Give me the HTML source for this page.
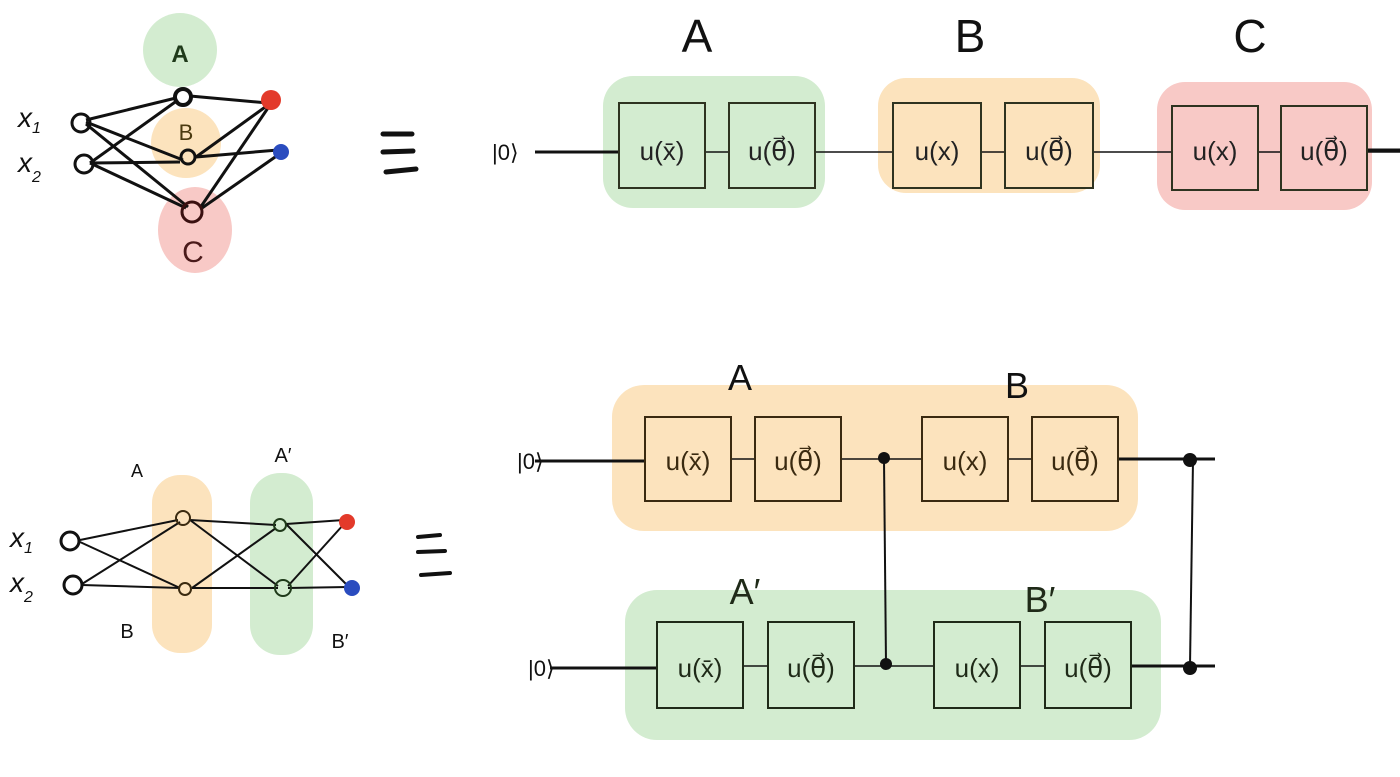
<!DOCTYPE html>
<html><head><meta charset="utf-8"><style>
html,body{margin:0;padding:0;background:#fff;}
svg{display:block;}
text{font-family:"Liberation Sans",sans-serif;}
</style></head><body>
<svg width="1400" height="777" viewBox="0 0 1400 777" xmlns="http://www.w3.org/2000/svg">
<!-- top-left network -->
<circle cx="180" cy="50" r="37" fill="#d3ecd0"/>
<circle cx="186" cy="143" r="35" fill="#fce3bd"/>
<ellipse cx="195" cy="230" rx="37" ry="43" fill="#f8c9c6"/>
<text x="180" y="62" font-size="24" font-weight="bold" fill="#1f3a1a" text-anchor="middle">A</text>
<text x="186" y="140" font-size="22" fill="#4a3a10" text-anchor="middle">B</text>
<text x="193" y="262" font-size="30" fill="#4a1a1a" text-anchor="middle">C</text>
<g stroke="#111" stroke-width="3" fill="none">
<line x1="86" y1="120" x2="176" y2="98"/><line x1="86" y1="122" x2="183" y2="160"/><line x1="86" y1="124" x2="188" y2="207"/>
<line x1="90" y1="163" x2="178" y2="100"/><line x1="90" y1="163" x2="180" y2="162"/><line x1="90" y1="163" x2="186" y2="208"/>
<line x1="190" y1="96" x2="268" y2="103"/><line x1="196" y1="157" x2="268" y2="105"/><line x1="196" y1="157" x2="278" y2="150"/>
<line x1="200" y1="208" x2="270" y2="105"/><line x1="202" y1="208" x2="278" y2="155"/>
<circle cx="81" cy="123" r="9"/><circle cx="84" cy="164" r="9"/>
<circle cx="183" cy="97" r="8" stroke-width="4"/><circle cx="188" cy="157" r="7"/><circle cx="192" cy="212" r="10" stroke="#3a1010"/>
</g>
<circle cx="271" cy="100" r="10" fill="#e33a2a"/><circle cx="281" cy="152" r="8" fill="#2a4cbf"/>
<text x="18" y="127" font-size="28" font-style="italic" fill="#111">x<tspan font-size="16" dy="6">1</tspan></text>
<text x="18" y="172" font-size="28" font-style="italic" fill="#111">x<tspan font-size="16" dy="10">2</tspan></text>
<g stroke="#111" stroke-width="5" stroke-linecap="round"><line x1="383" y1="134" x2="412" y2="134"/><line x1="383" y1="152" x2="413" y2="151"/><line x1="386" y1="172" x2="416" y2="169"/></g>

<!-- top circuit -->
<text x="697" y="52" font-size="46" fill="#111" text-anchor="middle">A</text>
<text x="970" y="52" font-size="46" fill="#111" text-anchor="middle">B</text>
<text x="1250" y="52" font-size="46" fill="#111" text-anchor="middle">C</text>
<rect x="603" y="76" width="222" height="132" rx="30" fill="#d3ecd0"/>
<rect x="878" y="78" width="222" height="115" rx="28" fill="#fce3bd"/>
<rect x="1157" y="82" width="215" height="128" rx="28" fill="#f8c9c6"/>
<text x="492" y="160" font-size="22" fill="#111">|0⟩</text>
<line x1="535" y1="152" x2="619" y2="152" stroke="#111" stroke-width="3"/>
<line x1="705" y1="152" x2="1400" y2="152" stroke="#111" stroke-width="1.5"/>
<line x1="1367" y1="150" x2="1400" y2="150" stroke="#111" stroke-width="3"/>
<g stroke="#2e3320" stroke-width="2">
<rect x="619" y="103" width="86" height="85" fill="#d3ecd0"/><rect x="729" y="103" width="86" height="85" fill="#d3ecd0"/>
<rect x="893" y="103" width="88" height="85" fill="#fce3bd"/><rect x="1005" y="103" width="88" height="85" fill="#fce3bd"/>
<rect x="1172" y="106" width="86" height="84" fill="#f8c9c6"/><rect x="1281" y="106" width="86" height="84" fill="#f8c9c6"/>
</g>
<g font-size="26" fill="#222" text-anchor="middle">
<text x="662" y="160">u(x̄)</text><text x="772" y="160">u(θ⃗)</text>
<text x="937" y="160">u(x)</text><text x="1049" y="160">u(θ⃗)</text>
<text x="1215" y="160">u(x)</text><text x="1324" y="160">u(θ⃗)</text>
</g>

<!-- bottom-left network -->
<rect x="152" y="475" width="60" height="178" rx="28" fill="#fce3bd"/>
<rect x="250" y="473" width="63" height="182" rx="30" fill="#d3ecd0"/>
<g stroke="#111" stroke-width="2" fill="none">
<line x1="80" y1="540" x2="178" y2="520"/><line x1="80" y1="542" x2="180" y2="588"/>
<line x1="82" y1="584" x2="180" y2="522"/><line x1="82" y1="585" x2="180" y2="588"/>
<line x1="190" y1="520" x2="276" y2="525"/><line x1="190" y1="520" x2="278" y2="586"/>
<line x1="192" y1="588" x2="276" y2="528"/><line x1="192" y1="588" x2="278" y2="588"/>
<line x1="286" y1="524" x2="344" y2="520"/><line x1="286" y1="524" x2="348" y2="586"/>
<line x1="288" y1="586" x2="344" y2="524"/><line x1="288" y1="588" x2="348" y2="587"/>
<circle cx="70" cy="541" r="9" stroke-width="3"/><circle cx="73" cy="585" r="9" stroke-width="3"/>
<circle cx="183" cy="518" r="7" stroke="#3a2a10"/><circle cx="185" cy="589" r="6" stroke="#3a2a10"/>
<circle cx="280" cy="525" r="6" stroke="#1f3a1a"/><circle cx="283" cy="588" r="8" stroke="#1f3a1a"/>
</g>
<circle cx="347" cy="522" r="8" fill="#e33a2a"/><circle cx="352" cy="588" r="8" fill="#2a4cbf"/>
<text x="10" y="547" font-size="28" font-style="italic" fill="#111">x<tspan font-size="16" dy="6">1</tspan></text>
<text x="10" y="592" font-size="28" font-style="italic" fill="#111">x<tspan font-size="16" dy="10">2</tspan></text>
<text x="137" y="477" font-size="18" fill="#111" text-anchor="middle">A</text>
<text x="283" y="462" font-size="20" fill="#111" text-anchor="middle">A′</text>
<text x="127" y="638" font-size="20" fill="#111" text-anchor="middle">B</text>
<text x="340" y="648" font-size="20" fill="#111" text-anchor="middle">B′</text>
<g stroke="#111" stroke-width="4" stroke-linecap="round"><line x1="418" y1="537" x2="440" y2="535"/><line x1="418" y1="552" x2="445" y2="551"/><line x1="421" y1="575" x2="450" y2="573"/></g>

<!-- bottom circuit -->
<rect x="612" y="385" width="526" height="146" rx="32" fill="#fce3bd"/>
<rect x="625" y="590" width="536" height="150" rx="32" fill="#d3ecd0"/>
<text x="740" y="390" font-size="36" fill="#111" text-anchor="middle">A</text>
<text x="1017" y="398" font-size="36" fill="#111" text-anchor="middle">B</text>
<text x="745" y="604" font-size="36" fill="#1f2a18" text-anchor="middle">A′</text>
<text x="1040" y="612" font-size="36" fill="#1f2a18" text-anchor="middle">B′</text>
<text x="517" y="469" font-size="22" fill="#111">|0⟩</text>
<text x="528" y="676" font-size="22" fill="#111">|0⟩</text>
<line x1="535" y1="461" x2="645" y2="461" stroke="#111" stroke-width="3"/>
<line x1="645" y1="459" x2="1215" y2="459" stroke="#111" stroke-width="1.5"/>
<line x1="1117" y1="459" x2="1215" y2="459" stroke="#111" stroke-width="3"/>
<line x1="550" y1="668" x2="657" y2="668" stroke="#111" stroke-width="3"/>
<line x1="657" y1="666" x2="1215" y2="666" stroke="#111" stroke-width="1.5"/>
<line x1="1130" y1="666" x2="1215" y2="666" stroke="#111" stroke-width="3"/>
<line x1="884" y1="459" x2="886" y2="664" stroke="#111" stroke-width="2"/>
<line x1="1193" y1="460" x2="1190" y2="666" stroke="#111" stroke-width="2"/>
<circle cx="884" cy="458" r="6" fill="#111"/><circle cx="886" cy="664" r="6" fill="#111"/>
<circle cx="1190" cy="460" r="7" fill="#111"/><circle cx="1190" cy="668" r="7" fill="#111"/>
<g stroke="#3a2a10" stroke-width="2" fill="#fce3bd">
<rect x="645" y="417" width="86" height="84"/><rect x="755" y="417" width="86" height="84"/>
<rect x="922" y="417" width="86" height="84"/><rect x="1032" y="417" width="86" height="84"/>
</g>
<g stroke="#1f2a18" stroke-width="2" fill="#d3ecd0">
<rect x="657" y="622" width="86" height="86"/><rect x="768" y="622" width="86" height="86"/>
<rect x="934" y="622" width="86" height="86"/><rect x="1045" y="622" width="86" height="86"/>
</g>
<g font-size="26" fill="#3a2a10" text-anchor="middle">
<text x="688" y="470">u(x̄)</text><text x="798" y="470">u(θ⃗)</text>
<text x="965" y="470">u(x)</text><text x="1075" y="470">u(θ⃗)</text>
</g>
<g font-size="26" fill="#1f2a18" text-anchor="middle">
<text x="700" y="677">u(x̄)</text><text x="811" y="677">u(θ⃗)</text>
<text x="977" y="677">u(x)</text><text x="1088" y="677">u(θ⃗)</text>
</g>
</svg>
</body></html>
